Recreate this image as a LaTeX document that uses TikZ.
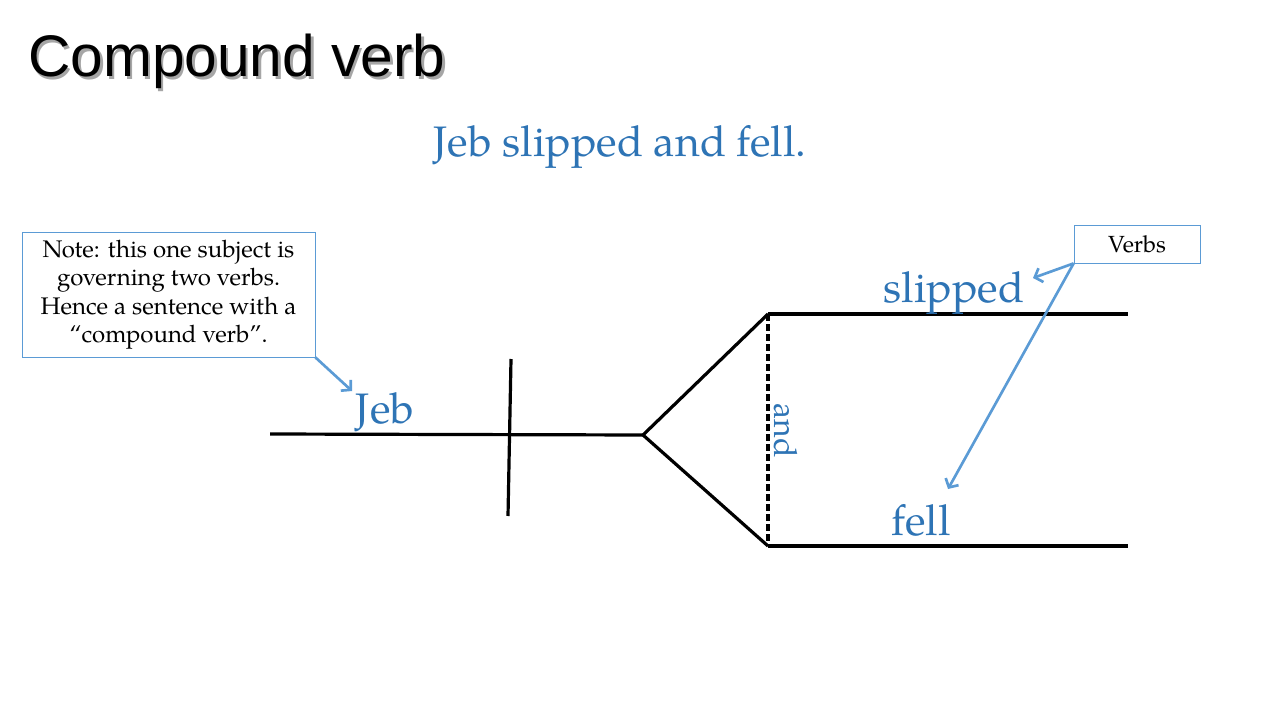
\documentclass[tikz,border=0pt]{standalone}
\usepackage{fontspec}
\setmainfont{TeX Gyre Pagella}
\newfontfamily\titlefont{Liberation Sans}
\usetikzlibrary{arrows.meta}
\definecolor{txtblue}{RGB}{46,116,181}
\definecolor{arrblue}{RGB}{91,155,213}
\tikzset{
  diag/.style={line width=2.4pt, black},
  dashdiag/.style={line width=2.4pt, black, dash pattern=on 5pt off 2.5pt},
  bluelabel/.style={text=txtblue, font=\fontsize{32}{38}\selectfont, inner sep=0pt, anchor=base},
  notebox/.style={draw=arrblue, line width=0.6pt, fill=white, align=center},
  pointer/.style={draw=arrblue, line width=2pt, -{Straight Barb[length=5pt,width=11pt,line width=2pt]}}
}
\begin{document}
\begin{tikzpicture}[x=0.75pt,y=-0.75pt]
\useasboundingbox (0,0) rectangle (1280,720);
% title with shadow
\node[anchor=base west, inner sep=0pt, text=black!35, font=\titlefont\fontsize{44}{50}\selectfont] (titleshadow) at (30.5,79.5) {Compound verb};
\node[anchor=base west, inner sep=0pt, font=\titlefont\fontsize{44}{50}\selectfont] (title) at (28,77) {Compound verb};
% sentence
\node[bluelabel] (sentence) at (620,157) {Jeb slipped and fell.};
% diagram coordinates
\coordinate (b0) at (270,434);
\coordinate (fork) at (643,435);
\coordinate (up) at (768,314);
\coordinate (dn) at (768,546);
\coordinate (upend) at (1128,314);
\coordinate (dnend) at (1128,546);
\coordinate (vtop) at (511,359);
\coordinate (vbot) at (508,516);
\draw[diag] (b0) -- (fork);
\draw[diag] (vtop) -- (vbot);
\draw[diag, line join=miter] (up) -- (fork) -- (dn);
\draw[diag] (up) -- (upend);
\draw[diag] (dn) -- (dnend);
\draw[dashdiag] (up) -- (dn);
% labels
\node[bluelabel] (jeb) at (385,423) {Jeb};
\node[bluelabel] (slipped) at (954,302) {slipped};
\node[bluelabel] (fell) at (921,535) {fell};
\node[text=txtblue, font=\fontsize{24}{28}\selectfont, inner sep=0pt, rotate=-90] (and) at (786,431) {and};
% note box
\node[notebox, minimum width=293*0.75pt, minimum height=125*0.75pt, inner sep=2pt, font=\fontsize{18}{21.4}\selectfont] (note) at (168.5,294.5)
  {Note: this one subject is\\governing two verbs.\\Hence a sentence with a\\``compound verb''.};
\node[notebox, minimum width=126*0.75pt, minimum height=38*0.75pt, inner sep=1pt, font=\fontsize{17.5}{20}\selectfont] (verbs) at (1137,244) {Verbs};
% pointers
\coordinate (aj) at (352,391);
\coordinate (as) at (1033,278);
\coordinate (af) at (948,489);
\draw[pointer] (note.south east) -- (aj);
\draw[pointer] (verbs.south west) -- (as);
\draw[pointer] (verbs.south west) -- (af);
\end{tikzpicture}
\end{document}
